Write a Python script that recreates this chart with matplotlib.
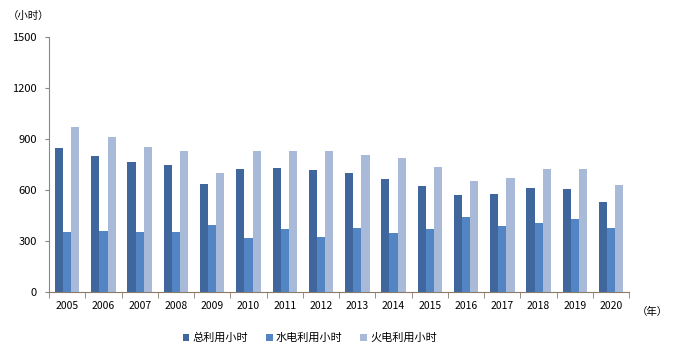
import numpy as np
import matplotlib
matplotlib.use("Agg")
import matplotlib.pyplot as plt

plt.rcParams['font.family'] = ['Noto Sans CJK SC', 'DejaVu Sans']

years = ['2005', '2006', '2007', '2008', '2009', '2010', '2011', '2012',
         '2013', '2014', '2015', '2016', '2017', '2018', '2019', '2020']
total = [848, 800, 768, 748, 640, 728, 733, 719, 699, 665, 626, 573, 577, 612, 606, 529]
hydro = [357, 358, 357, 357, 398, 317, 375, 323, 378, 352, 370, 441, 393, 408, 433, 378]
thermal = [975, 912, 855, 830, 700, 832, 832, 832, 806, 790, 737, 655, 675, 728, 728, 630]

fig = plt.figure(figsize=(6.81, 3.54), dpi=100)
ax = fig.add_axes([0.072, 0.174, 0.852, 0.721])

x = np.arange(len(years))
w = 0.225
ax.bar(x - w, total, w, color='#3F679E', label='总利用小时')
ax.bar(x, hydro, w, color='#5384C4', label='水电利用小时')
ax.bar(x + w, thermal, w, color='#A9BAD9', label='火电利用小时')

ax.set_xlim(-0.5, len(years) - 0.5)
ax.set_ylim(0, 1500)
ax.set_yticks([0, 300, 600, 900, 1200, 1500])
ax.set_xticks(x)
ax.set_xticklabels(years)
ax.set_xticks(np.arange(len(years) + 1) - 0.5, minor=True)
ax.tick_params(axis='x', which='major', length=0, labelsize=7.5, pad=6)
ax.tick_params(axis='x', which='minor', length=4, color='#8B7B6B', direction='out')
ax.tick_params(axis='y', length=3, color='#888888', labelsize=8, pad=6)

for s in ['top', 'right']:
    ax.spines[s].set_visible(False)
ax.spines['left'].set_color('#888888')
ax.spines['bottom'].set_color('#8B7B6B')

fig.text(0.012, 0.955, '（小时）', fontsize=7.5, va='center')
fig.text(0.935, 0.12, '（年）', fontsize=7.5, va='center')

fig.legend(loc='center', bbox_to_anchor=(0.455, 0.045), ncol=3, frameon=False,
           fontsize=8, handlelength=0.6, handleheight=0.6, handletextpad=0.3,
           columnspacing=1.6, borderpad=0, borderaxespad=0)

plt.savefig('out.png', dpi=100)
